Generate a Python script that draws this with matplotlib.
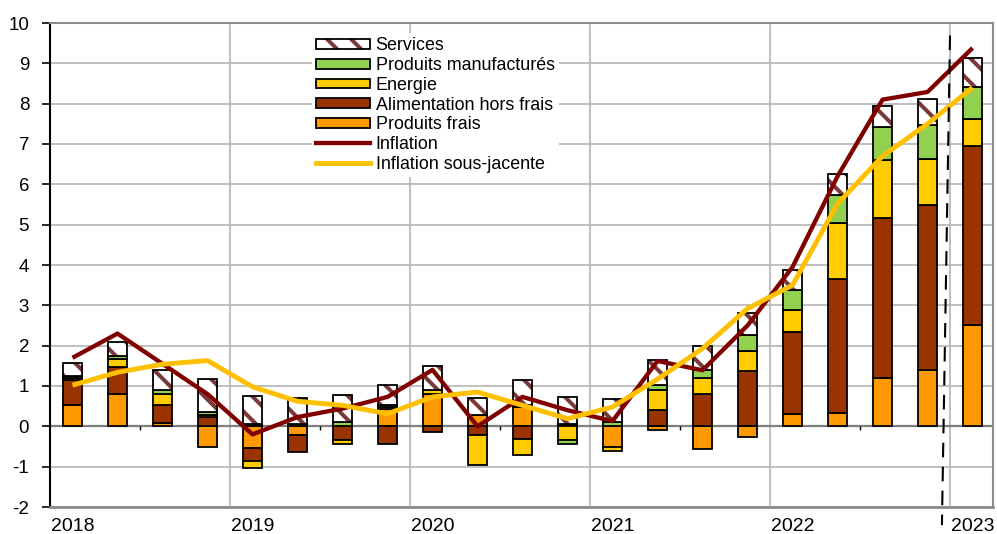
import numpy as np
import matplotlib
matplotlib.use('Agg')
import matplotlib.pyplot as plt
from matplotlib.patches import Patch
from matplotlib.lines import Line2D
from matplotlib.legend_handler import HandlerTuple

# figure drawn at 72 dpi so that hatch spacing matches; K converts sizes
DPI = 72
K = 100 / DPI

plt.rcParams['font.family'] = ['Liberation Sans', 'DejaVu Sans']
plt.rcParams['hatch.linewidth'] = 2.9 * K
plt.rcParams['axes.unicode_minus'] = False

quarters = ['2018T1', '2018T2', '2018T3', '2018T4',
            '2019T1', '2019T2', '2019T3', '2019T4',
            '2020T1', '2020T2', '2020T3', '2020T4',
            '2021T1', '2021T2', '2021T3', '2021T4',
            '2022T1', '2022T2', '2022T3', '2022T4',
            '2023T1']
year_labels = ['2018', '2019', '2020', '2021', '2022', '2023']

produits_frais = [0.52, 0.79, 0.08, -0.50, -0.53, -0.22, 0.00, 0.44, 0.81, 0.27, 0.48,
                  0.03, -0.51, -0.08, -0.57, -0.26, 0.30, 0.33, 1.21, 1.40, 2.52]
alimentation = [0.62, 0.68, 0.44, 0.23, -0.32, -0.42, -0.35, -0.45, -0.13, -0.22, -0.31,
                0.04, 0.00, 0.40, 0.79, 1.36, 2.04, 3.33, 3.96, 4.10, 4.43]
energie = [0.06, 0.21, 0.29, 0.05, -0.18, 0.02, -0.10, 0.04, 0.08, -0.75, -0.41,
           -0.35, -0.09, 0.49, 0.42, 0.52, 0.55, 1.39, 1.43, 1.14, 0.66]
manufactures = [0.06, 0.07, 0.08, 0.08, 0.06, 0.04, 0.10, 0.04, 0.00, 0.00, 0.04,
                -0.08, 0.10, 0.13, 0.18, 0.38, 0.50, 0.68, 0.82, 0.82, 0.80]
services = [0.31, 0.33, 0.51, 0.82, 0.68, 0.65, 0.67, 0.50, 0.60, 0.44, 0.64,
            0.66, 0.59, 0.62, 0.60, 0.55, 0.49, 0.52, 0.51, 0.66, 0.71]
inflation = [1.70, 2.30, 1.55, 0.80, -0.20, 0.23, 0.44, 0.73, 1.40, 0.00, 0.73,
             0.40, 0.13, 1.62, 1.39, 2.50, 3.95, 6.20, 8.10, 8.29, 9.38]
inflation_sj = [1.02, 1.34, 1.54, 1.63, 0.98, 0.62, 0.52, 0.31, 0.73, 0.85, 0.52,
                0.19, 0.48, 1.17, 1.93, 2.92, 3.50, 5.52, 6.70, 7.50, 8.40]

C_FRAIS = '#FF9900'
C_ALIM = '#993300'
C_ENER = '#FFCC00'
C_MANUF = '#92D050'
C_SERV_HATCH = '#7A3A3A'
C_INF = '#800000'
C_SJ = '#FFC000'

fig = plt.figure(figsize=(997 / DPI, 534 / DPI), dpi=DPI)
ax = fig.add_axes([50/997, 27/534, 943/997, 484/534])

x = np.arange(len(quarters))
width = 0.43
edge_lw = 1.3 * K

pos_bottom = np.zeros(len(x))
neg_bottom = np.zeros(len(x))

series = [
    (produits_frais, C_FRAIS, False),
    (alimentation, C_ALIM, False),
    (energie, C_ENER, False),
    (manufactures, C_MANUF, False),
    (services, 'white', True),
]

for vals, col, hatched in series:
    v = np.array(vals, dtype=float)
    bottoms = np.where(v >= 0, pos_bottom, neg_bottom)
    if hatched:
        ax.bar(x, v, width, bottom=bottoms, color='white', edgecolor=C_SERV_HATCH,
               hatch='\\', linewidth=0, zorder=2)
        ax.bar(x, v, width, bottom=bottoms, color='none', edgecolor='black',
               linewidth=edge_lw, zorder=2.1)
    else:
        ax.bar(x, v, width, bottom=bottoms, color=col, edgecolor='black',
               linewidth=edge_lw, zorder=2)
    pos_bottom = pos_bottom + np.where(v >= 0, v, 0)
    neg_bottom = neg_bottom + np.where(v < 0, v, 0)

ax.plot(x, inflation, color=C_INF, lw=3.1 * K, zorder=4, solid_capstyle='butt')
ax.plot(x, inflation_sj, color=C_SJ, lw=3.5 * K, zorder=4, solid_capstyle='butt')

ax.set_xlim(-0.5, 20.455)
ax.set_ylim(-2, 10)

ax.set_yticks(np.arange(-2, 11, 1))
ax.yaxis.grid(True, color='#B4B4B4', lw=1.2 * K, zorder=0)
ax.set_axisbelow(True)
for xv in [3.5, 7.5, 11.5, 15.5, 19.5]:
    ax.axvline(xv, color='#B4B4B4', lw=1.2 * K, zorder=0.5)
ax.axhline(0, color='#7F7F7F', lw=1.6 * K, zorder=1)
ax.vlines([1.5, 5.5, 9.5, 13.5, 17.5], -0.09, 0, color='black', lw=1.0 * K, zorder=1)

ax.set_xticks([0, 4, 8, 12, 16, 20])
ax.set_xticklabels(year_labels)
ax.tick_params(axis='x', length=0, pad=8 * K, labelsize=14 * K)
ax.tick_params(axis='y', length=6 * K, width=1.2 * K, direction='out', pad=9 * K,
               labelsize=13.5 * K, colors='black')

for s in ['top', 'right']:
    ax.spines[s].set_color('#8C8C8C')
    ax.spines[s].set_linewidth(1.5 * K)
ax.spines['bottom'].set_color('#8C8C8C')
ax.spines['bottom'].set_linewidth(2.0 * K)
ax.spines['left'].set_color('black')
ax.spines['left'].set_linewidth(1.5 * K)

ax.plot([19.5, 19.32], [9.69, -2.45], color='black', lw=1.5 * K, dashes=(7, 4.5),
        clip_on=False, zorder=5)

h_serv = (Patch(facecolor='white', edgecolor=C_SERV_HATCH, hatch='\\', linewidth=0),
          Patch(facecolor='none', edgecolor='black', linewidth=edge_lw))
handles = [
    h_serv,
    Patch(facecolor=C_MANUF, edgecolor='black', linewidth=edge_lw),
    Patch(facecolor=C_ENER, edgecolor='black', linewidth=edge_lw),
    Patch(facecolor=C_ALIM, edgecolor='black', linewidth=edge_lw),
    Patch(facecolor=C_FRAIS, edgecolor='black', linewidth=edge_lw),
    Line2D([], [], color=C_INF, lw=3.1 * K),
    Line2D([], [], color=C_SJ, lw=3.5 * K),
]
labels = ['Services', 'Produits manufacturés', 'Energie', 'Alimentation hors frais',
          'Produits frais', 'Inflation', 'Inflation sous-jacente']
leg = ax.legend(handles, labels, loc='upper left',
                bbox_to_anchor=(312/997, 1 - 33/534), bbox_transform=fig.transFigure,
                handler_map={tuple: HandlerTuple(ndivide=1)},
                fontsize=12.9 * K, frameon=True, facecolor='white', edgecolor='none',
                framealpha=1, fancybox=False, borderpad=0.25, labelspacing=0.15,
                handlelength=3.0, handleheight=0.45, handletextpad=0.3,
                borderaxespad=0)
leg.set_zorder(6)

fig.savefig('out.png', dpi=DPI)
